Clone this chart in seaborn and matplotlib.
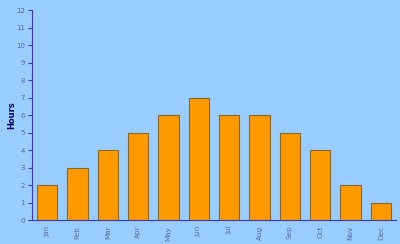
import matplotlib
matplotlib.use("Agg")
import matplotlib.pyplot as plt
import seaborn as sns
import pandas as pd
import numpy as np

months = ["Jan", "Feb", "Mar", "Apr", "May", "Jun", "Jul", "Aug", "Sep", "Oct", "Nov", "Dec"]
hours = [2, 3, 4, 5, 6, 7, 6, 6, 5, 4, 2, 1]
y_ticks = list(range(0, 13))

sns.set_style("white")
plt.rcParams['font.family'] = ['DejaVu Sans']

bg = "#99CCFF"
df = pd.DataFrame({"month": months, "hours": hours})

fig = plt.figure(figsize=(4.0, 2.44), dpi=100, facecolor=bg)
ax = fig.add_axes([0.08, 0.098, 0.91, 0.861])
ax.set_facecolor(bg)
sns.barplot(data=df, x="month", y="hours", color="#FF9900", saturation=1,
            width=0.66, edgecolor="#8A6A2A", linewidth=0.8, ax=ax)

ax.set_ylim(0, 12)
ax.set_xlim(-0.5, len(months) - 0.5)
ax.set_yticks(y_ticks)
ax.set_yticklabels([str(t) for t in y_ticks], fontsize=5, color="#5A6A9A")
ax.set_xticks(range(len(months)))
ax.set_xticklabels(months, rotation=90, fontsize=5.2, color="#5A6A9A")
ax.tick_params(axis="x", length=0, pad=4)
ax.set_xticks(np.arange(-0.5, len(months)), minor=True)
ax.tick_params(axis="x", which="minor", length=3, color="#3A3ACC", width=0.8)
ax.tick_params(axis="y", length=3, color="#3A3ACC", width=0.8, pad=2, left=True)

for s in ["top", "right"]:
    ax.spines[s].set_visible(False)
for s in ["left", "bottom"]:
    ax.spines[s].set_color("#3A3ACC")
    ax.spines[s].set_linewidth(0.8)

ax.set_xlabel("")
ax.set_ylabel("Hours", fontsize=6, fontweight="bold", color="#000066")
ax.yaxis.set_label_coords(-0.042, 0.5)

fig.savefig("out.png", dpi=100, facecolor=bg)
